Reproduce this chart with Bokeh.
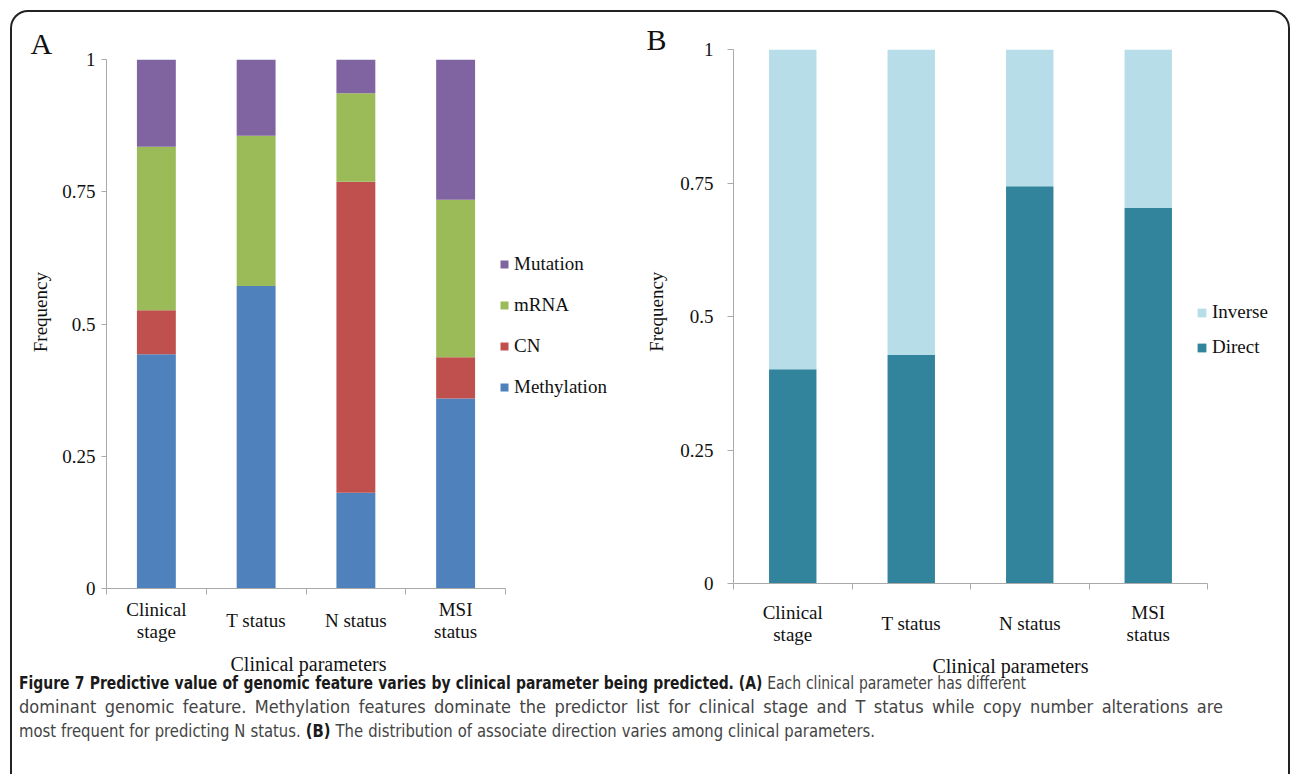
from bokeh.plotting import figure
from bokeh.models import (Range1d, FixedTicker, ColumnDataSource, Legend, LegendItem,
                          Title, Div)
from bokeh.layouts import row, column
from bokeh.embed import file_html
from bokeh.resources import INLINE

# ---------------- data ----------------
categories = ["Clinical stage", "T status", "N status", "MSI status"]
category_labels = ["Clinical\nstage", "T status", "N status", "MSI\nstatus"]
ytick_values = [0, 0.25, 0.5, 0.75, 1]
ytick_labels = ["0", "0.25", "0.5", "0.75", "1"]

# Panel A: share of predictors by genomic feature
feature_names = ["Methylation", "CN", "mRNA", "Mutation"]
methylation = [0.443, 0.572, 0.181, 0.359]
cn = [0.083, 0.000, 0.588, 0.078]
mrna = [0.309, 0.284, 0.167, 0.298]
mutation = [0.165, 0.144, 0.064, 0.265]
feature_colors = ["#4F81BD", "#C0504D", "#9BBB59", "#8064A2"]

# Panel B: association direction
direction_names = ["Direct", "Inverse"]
direct = [0.401, 0.428, 0.744, 0.703]
inverse = [0.599, 0.572, 0.256, 0.297]
direction_colors = ["#31849B", "#B7DEE8"]

SERIF = "Liberation Serif"
TXT = "#111111"
AXC = "#aaaaaa"

n_cat = len(categories)
xpos = [i + 0.5 for i in range(n_cat)]
# two-line labels keep their lines; one-line labels sit centred between them
axis_labels = [l.replace("\n", "\n\n") if "\n" in l else "\n" + l for l in category_labels]


def base_fig(width, height, left, top, bottom, axis_px, label_standoff, tick_out_y,
             title_standoff, x_standoff):
    frame_w = width - left
    p = figure(width=width, height=height,
               x_range=Range1d(0, n_cat * frame_w / axis_px),
               y_range=Range1d(0, 1), output_backend="svg", toolbar_location=None,
               min_border_left=left, min_border_right=0, min_border_top=top,
               min_border_bottom=bottom)
    p.background_fill_color = None
    p.border_fill_color = None
    p.outline_line_color = None
    p.xgrid.visible = False
    p.ygrid.visible = False
    # y axis
    ya = p.yaxis[0]
    ya.ticker = FixedTicker(ticks=ytick_values)
    ya.major_label_overrides = {v: l for v, l in zip(ytick_values, ytick_labels)}
    ya.major_label_text_font = SERIF
    ya.major_label_text_font_size = "19px"
    ya.major_label_text_color = TXT
    ya.major_label_standoff = label_standoff
    ya.major_tick_out = tick_out_y
    ya.major_tick_in = 0
    ya.minor_tick_line_color = None
    ya.axis_line_color = AXC
    ya.major_tick_line_color = AXC
    ya.axis_label_text_font = SERIF
    ya.axis_label_text_font_size = "19px"
    ya.axis_label_text_font_style = "normal"
    ya.axis_label_text_color = TXT
    ya.axis_label_standoff = title_standoff
    # x axis: category names at centres, ticks at category boundaries
    xa = p.xaxis[0]
    xa.bounds = (0, n_cat)
    xa.ticker = FixedTicker(ticks=xpos, minor_ticks=list(range(n_cat + 1)))
    xa.major_label_overrides = {x: l for x, l in zip(xpos, axis_labels)}
    xa.major_label_text_font = SERIF
    xa.major_label_text_font_size = "19px"
    xa.major_label_text_color = TXT
    xa.major_label_text_line_height = 0.53
    xa.major_label_standoff = x_standoff
    xa.major_tick_line_color = None
    xa.major_tick_out = 0
    xa.major_tick_in = 0
    xa.minor_tick_out = 6
    xa.minor_tick_in = 0
    xa.minor_tick_line_color = AXC
    xa.axis_line_color = AXC
    return p


def styled_legend(items, vx, vy, glyph, spacing):
    lg = Legend(items=items, location=(vx, vy), orientation="vertical")
    lg.padding = 0
    lg.margin = 0
    lg.border_line_color = None
    lg.background_fill_alpha = 0
    lg.glyph_width = glyph
    lg.glyph_height = glyph
    lg.label_height = 22
    lg.spacing = spacing
    lg.label_standoff = 5
    lg.label_text_font = SERIF
    lg.label_text_font_size = "19px"
    lg.label_text_color = TXT
    return lg


def x_title(p, align, offset, standoff):
    p.add_layout(Title(text="Clinical parameters", align=align, offset=offset,
                       standoff=standoff, text_font=SERIF, text_font_size="20px",
                       text_font_style="normal", text_color=TXT), "below")


def panel_letter(p, letter, offset, standoff):
    p.add_layout(Title(text=letter, align="left", offset=offset, standoff=standoff,
                       text_font=SERIF, text_font_size="30px", text_font_style="normal",
                       text_color=TXT), "above")


# ---------------- Panel A ----------------
pa = base_fig(628, 700, 94, 47, 122, 399, 6, 5, 8, 4)
pa.yaxis[0].axis_label = "\u00a0\u00a0\u00a0\u00a0\u00a0Frequency"
src_a = ColumnDataSource(dict(x=xpos, Methylation=methylation, CN=cn, mRNA=mrna,
                              Mutation=mutation))
rs_a = pa.vbar_stack(feature_names, x="x", width=0.39, color=feature_colors,
                     line_color=None, source=src_a)
items_a = [LegendItem(label=n, renderers=[r]) for n, r in zip(feature_names, rs_a)][::-1]
pa.add_layout(styled_legend(items_a, 393, 190, 10, 19))
x_title(pa, "left", 124, 12)
panel_letter(pa, "A", -76, 0)

# ---------------- Panel B ----------------
pb = base_fig(647, 705, 93, 47, 124, 474, 14, 6, 10, 12)
pb.styles = {"margin-top": "-10px"}
pb.yaxis[0].axis_label = "\u00a0\u00a0Frequency"
src_b = ColumnDataSource(dict(x=xpos, Direct=direct, Inverse=inverse))
rs_b = pb.vbar_stack(direction_names, x="x", width=0.40, color=direction_colors,
                     line_color=None, source=src_b)
items_b = [LegendItem(label=n, renderers=[r]) for n, r in zip(direction_names, rs_b)][::-1]
pb.add_layout(styled_legend(items_b, 463, 225, 11, 13))
x_title(pb, "center", 0, 11)
panel_letter(pb, "B", -87, -13)

# ---------------- caption ----------------
cap_lines = [
    ('<b style="color:#1a1a1a">Figure 7 Predictive value of genomic feature varies by clinical '
     'parameter being predicted.</b> <b style="color:#1a1a1a">(A)</b> Each clinical parameter '
     'has different', 1007, 0.86),
    ('dominant genomic feature. Methylation features dominate the predictor list for clinical '
     'stage and T status while copy number alterations are', 1204, 1.0),
    ('most frequent for predicting N status. <b style="color:#1a1a1a">(B)</b> The distribution '
     'of associate direction varies among clinical parameters.', 856, 0.915),
]
line_divs = "".join(
    '<div style="width:%.1fpx; height:24px; text-align:justify; text-align-last:justify; '
    'transform:scaleX(%.3f); transform-origin:0 0;">%s</div>' % (w / k, k, t)
    for t, w, k in cap_lines
)
cap_html = (
    '<div style="font-family: \'Liberation Sans Narrow\', \'DejaVu Sans Condensed\', '
    '\'Roboto Condensed\', sans-serif; font-size: 18px; line-height: 24px; color: #444444; '
    'padding-left: 2px;">' + line_divs + '</div>'
)
cap = Div(text=cap_html, width=1276, height=100, styles={"margin-top": "-41px"})

layout = column(row(pa, pb), cap, width=1280,
                styles={"margin-left": "10px", "margin-top": "10px",
                        "border": "2px solid #222222", "border-bottom": "none",
                        "border-radius": "18px 18px 0 0"})

open("out.html", "w").write(file_html(layout, INLINE))
